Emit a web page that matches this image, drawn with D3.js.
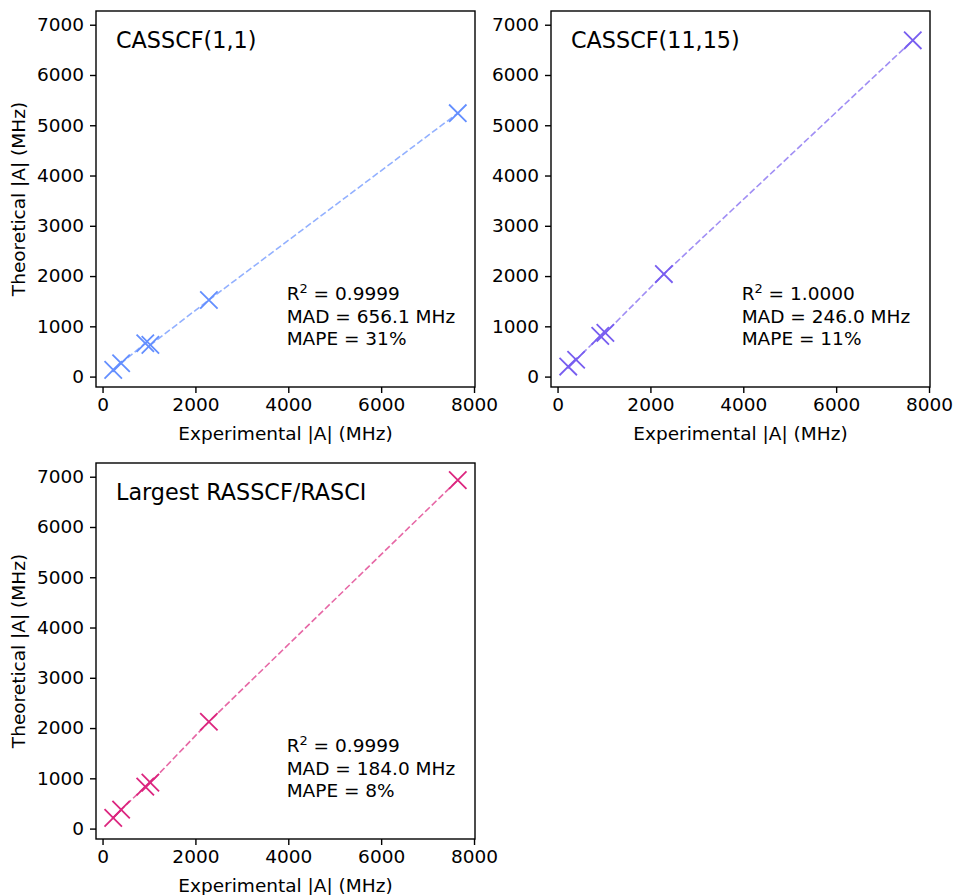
<!DOCTYPE html>
<html>
<head>
<meta charset="utf-8">
<script src="https://cdn.jsdelivr.net/npm/d3@7"></script>
<style>
  html, body { margin: 0; padding: 0; background: #fff; }
  svg { display: block; font-family: "DejaVu Sans", sans-serif; }
</style>
</head>
<body>
<svg id="chart" width="955" height="895"></svg>
<script>
// Experimental hyperfine constants (MHz), shared by every panel
const experimental = [230, 400, 920, 1030, 2290, 7650];

// Theoretical hyperfine constants (MHz) for each method
const theoCas11   = [133, 266, 663, 630, 1524, 5240];
const theoCas1115 = [200, 335, 810, 870, 2040, 6690];
const theoRas     = [213, 377, 834, 914, 2126, 6933];

const panelTitles = ["CASSCF(1,1)", "CASSCF(11,15)", "Largest RASSCF/RASCI"];
const panelColors = ["#648FFF", "#785EF0", "#DC267F"];
const r2Labels    = ["0.9999", "1.0000", "0.9999"];
const madLabels   = ["656.1", "246.0", "184.0"];
const mapeLabels  = ["31%", "11%", "8%"];
const showYLabel  = [true, false, true];

const xTicks = [0, 2000, 4000, 6000, 8000];
const yTicks = [0, 1000, 2000, 3000, 4000, 5000, 6000, 7000];

const series = [theoCas11, theoCas1115, theoRas];

// Panel frames in the figure
const panelPos = [
  { left: 96,  top: 11 },
  { left: 551, top: 11 },
  { left: 96,  top: 463 }
];
const W = 379, H = 376;

// Data limits with 5% padding
function padded(ext) {
  const r = ext[1] - ext[0];
  return [ext[0] - 0.05 * r, ext[1] + 0.05 * r];
}
const xDomain = padded(d3.extent(experimental));
const yDomain = padded(d3.extent(series.flat()));

const svg = d3.select("#chart");
const FS = 18.5;

series.forEach((theo, i) => {
  const pos = panelPos[i];
  const color = panelColors[i];
  const g = svg.append("g").attr("transform", `translate(${pos.left},${pos.top})`);

  const x = d3.scaleLinear().domain(xDomain).range([0, W]);
  const y = d3.scaleLinear().domain(yDomain).range([H, 0]);

  // Axes
  const xAxis = d3.axisBottom(x).tickValues(xTicks).tickFormat(d3.format("d"))
    .tickSize(6).tickPadding(5);
  const yAxis = d3.axisLeft(y).tickValues(yTicks).tickFormat(d3.format("d"))
    .tickSize(6).tickPadding(6);

  const gx = g.append("g").attr("transform", `translate(0,${H})`).call(xAxis);
  const gy = g.append("g").call(yAxis);
  [gx, gy].forEach(a => {
    a.select(".domain").remove();
    a.selectAll(".tick line").attr("stroke", "#000").attr("stroke-width", 1.4);
    a.selectAll(".tick text").attr("font-size", FS).attr("fill", "#000")
      .attr("font-family", "DejaVu Sans, sans-serif");
  });

  // Frame
  g.append("rect").attr("x", 0).attr("y", 0).attr("width", W).attr("height", H)
    .attr("fill", "none").attr("stroke", "#000").attr("stroke-width", 1.4);

  // Points sorted by experimental value, joined by a dashed line
  const pts = experimental.map((e, k) => ({ e, t: theo[k] })).sort((a, b) => a.e - b.e);
  const line = d3.line().x(d => x(d.e)).y(d => y(d.t));
  g.append("path").datum(pts).attr("d", line)
    .attr("fill", "none").attr("stroke", color).attr("stroke-width", 1.6)
    .attr("stroke-opacity", 0.7).attr("stroke-dasharray", "6.5,2.8");

  const s = 8.7;
  g.selectAll("path.mark").data(pts).join("path").attr("class", "mark")
    .attr("d", d => {
      const cx = x(d.e), cy = y(d.t);
      return `M${cx - s},${cy - s}L${cx + s},${cy + s}M${cx - s},${cy + s}L${cx + s},${cy - s}`;
    })
    .attr("stroke", color).attr("stroke-width", 1.8).attr("fill", "none");

  // Panel title
  g.append("text").attr("x", 20).attr("y", 37)
    .attr("font-size", 22.3).attr("fill", "#000").text(panelTitles[i]);

  // Statistics block
  const sx = W * 0.503;
  const st = g.append("text").attr("font-size", FS).attr("fill", "#000");
  const l1 = st.append("tspan").attr("x", sx).attr("y", 288.5);
  l1.append("tspan").text("R");
  l1.append("tspan").attr("font-size", FS * 0.7).attr("dy", -7).text("2");
  l1.append("tspan").attr("dy", 7).text(" = " + r2Labels[i]);
  st.append("tspan").attr("x", sx).attr("y", 311.5).text(`MAD = ${madLabels[i]} MHz`);
  st.append("tspan").attr("x", sx).attr("y", 333.5).text(`MAPE = ${mapeLabels[i]}`);

  // Axis titles
  g.append("text").attr("x", W / 2).attr("y", H + 53).attr("text-anchor", "middle")
    .attr("font-size", FS).attr("fill", "#000").text("Experimental |A| (MHz)");
  if (showYLabel[i]) {
    g.append("text").attr("transform", `translate(${-71},${H / 2}) rotate(-90)`)
      .attr("text-anchor", "middle").attr("font-size", FS).attr("fill", "#000")
      .text("Theoretical |A| (MHz)");
  }
});
</script>
</body>
</html>
